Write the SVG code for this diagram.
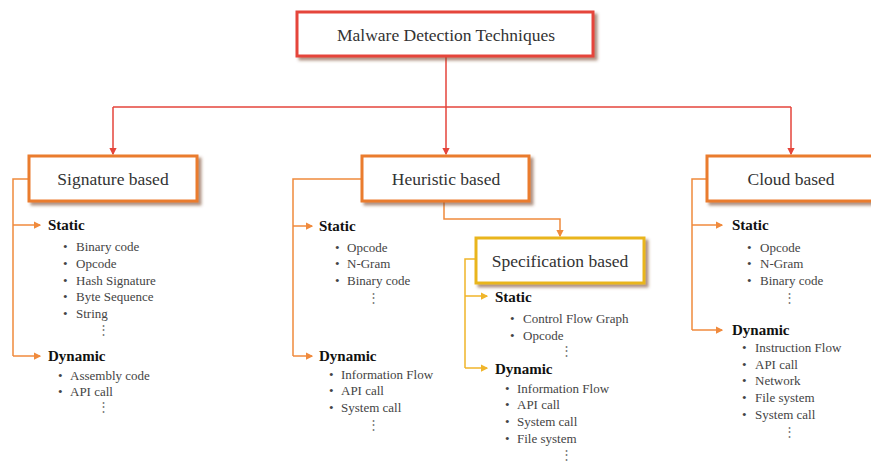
<svg xmlns="http://www.w3.org/2000/svg" width="871" height="463" viewBox="0 0 871 463" font-family="Liberation Serif, serif">
<style>
text{font-family:'Liberation Serif',serif}
.box{fill:#fff;stroke-width:3}
.red{stroke:#e5453b}
.org{stroke:#ea7b2e}
.yel{stroke:#e9b51f}
.lbl{font-size:17.5px;fill:#333;text-anchor:middle}
.hd{font-size:15px;font-weight:bold;fill:#111}
.it{font-size:13px;fill:#444}
.dots{font-size:13px;fill:#777;text-anchor:middle}
.cr{fill:none;stroke:#e5453b;stroke-width:1.5}
.co{fill:none;stroke:#f08a3c;stroke-width:1.5}
.cy{fill:none;stroke:#f0b52a;stroke-width:1.5}
</style>
<defs>
<filter id="sh" x="-10%" y="-20%" width="130%" height="150%">
<feDropShadow dx="3" dy="3" stdDeviation="1.5" flood-color="#7a4a2a" flood-opacity="0.6"/>
</filter>
<marker id="ar" viewBox="0 0 6 6" refX="5" refY="3" markerWidth="5" markerHeight="5" orient="auto"><path d="M0,0 L6,3 L0,6 z" fill="#e5453b"/></marker>
<marker id="ao" viewBox="0 0 6 6" refX="5" refY="3" markerWidth="5" markerHeight="5" orient="auto"><path d="M0,0 L6,3 L0,6 z" fill="#f08a3c"/></marker>
<marker id="ay" viewBox="0 0 6 6" refX="5" refY="3" markerWidth="5" markerHeight="5" orient="auto"><path d="M0,0 L6,3 L0,6 z" fill="#f0b52a"/></marker>
</defs>
<rect width="871" height="463" fill="#fff"/>
<g id="connectors">
<path class="cr" d="M446,57 V107"/>
<path class="cr" d="M113,107 H791"/>
<path class="cr" d="M113,107 V154" marker-end="url(#ar)"/>
<path class="cr" d="M446,107 V154" marker-end="url(#ar)"/>
<path class="cr" d="M791,107 V154" marker-end="url(#ar)"/>
<path class="co" d="M444,202 V219 H560 V236" marker-end="url(#ao)"/>
<path class="co" d="M29,179 H13 V356"/>
<path class="co" d="M13,225 H40" marker-end="url(#ao)"/>
<path class="co" d="M13,356 H40" marker-end="url(#ao)"/>
<path class="co" d="M362,179 H293 V356"/>
<path class="co" d="M293,226 H312" marker-end="url(#ao)"/>
<path class="co" d="M293,356 H312" marker-end="url(#ao)"/>
<path class="cy" d="M476,259 H465 V368"/>
<path class="cy" d="M465,296 H487" marker-end="url(#ay)"/>
<path class="cy" d="M465,368 H487" marker-end="url(#ay)"/>
<path class="co" d="M707,179 H692 V330"/>
<path class="co" d="M692,225 H722" marker-end="url(#ao)"/>
<path class="co" d="M692,330 H722" marker-end="url(#ao)"/>
</g>
<g id="root">
<rect class="box red" x="297" y="12" width="296" height="44" filter="url(#sh)"/>
<text class="lbl" x="446" y="41">Malware Detection Techniques</text>
</g>
<g id="signature">
<rect class="box org" x="29" y="156" width="168" height="45" filter="url(#sh)"/>
<text class="lbl" x="113" y="185">Signature based</text>
<text class="hd" x="48" y="230">Static</text>
<text class="it" x="63" y="251">•<tspan x="76">Binary code</tspan></text>
<text class="it" x="63" y="268">•<tspan x="76">Opcode</tspan></text>
<text class="it" x="63" y="285">•<tspan x="76">Hash Signature</tspan></text>
<text class="it" x="63" y="301">•<tspan x="76">Byte Sequence</tspan></text>
<text class="it" x="63" y="318">•<tspan x="76">String</tspan></text>
<text class="dots" x="103" y="334">⋮</text>
<text class="hd" x="48" y="361">Dynamic</text>
<text class="it" x="58" y="380">•<tspan x="70">Assembly code</tspan></text>
<text class="it" x="58" y="396">•<tspan x="70">API call</tspan></text>
<text class="dots" x="103" y="411">⋮</text>
</g>
<g id="heuristic">
<rect class="box org" x="362" y="156" width="167" height="45" filter="url(#sh)"/>
<text class="lbl" x="446" y="185">Heuristic based</text>
<text class="hd" x="319" y="231">Static</text>
<text class="it" x="335" y="252">•<tspan x="347">Opcode</tspan></text>
<text class="it" x="335" y="268">•<tspan x="347">N-Gram</tspan></text>
<text class="it" x="335" y="285">•<tspan x="347">Binary code</tspan></text>
<text class="dots" x="373" y="302">⋮</text>
<text class="hd" x="319" y="361">Dynamic</text>
<text class="it" x="329" y="379">•<tspan x="341">Information Flow</tspan></text>
<text class="it" x="329" y="395">•<tspan x="341">API call</tspan></text>
<text class="it" x="329" y="412">•<tspan x="341">System call</tspan></text>
<text class="dots" x="373" y="429">⋮</text>
</g>
<g id="specification">
<rect class="box yel" x="476" y="238" width="168" height="45" filter="url(#sh)"/>
<text class="lbl" x="560" y="267">Specification based</text>
<text class="hd" x="495" y="302">Static</text>
<text class="it" x="510" y="323">•<tspan x="523">Control Flow Graph</tspan></text>
<text class="it" x="510" y="340">•<tspan x="523">Opcode</tspan></text>
<text class="dots" x="566" y="355">⋮</text>
<text class="hd" x="495" y="374">Dynamic</text>
<text class="it" x="505" y="393">•<tspan x="517">Information Flow</tspan></text>
<text class="it" x="505" y="409">•<tspan x="517">API call</tspan></text>
<text class="it" x="505" y="426">•<tspan x="517">System call</tspan></text>
<text class="it" x="505" y="443">•<tspan x="517">File system</tspan></text>
<text class="dots" x="566" y="459">⋮</text>
</g>
<g id="cloud">
<rect class="box org" x="707" y="156" width="168" height="45" filter="url(#sh)"/>
<text class="lbl" x="791" y="185">Cloud based</text>
<text class="hd" x="732" y="230">Static</text>
<text class="it" x="747" y="252">•<tspan x="760">Opcode</tspan></text>
<text class="it" x="747" y="268">•<tspan x="760">N-Gram</tspan></text>
<text class="it" x="747" y="285">•<tspan x="760">Binary code</tspan></text>
<text class="dots" x="789" y="302">⋮</text>
<text class="hd" x="732" y="335">Dynamic</text>
<text class="it" x="742" y="352">•<tspan x="755">Instruction Flow</tspan></text>
<text class="it" x="742" y="369">•<tspan x="755">API call</tspan></text>
<text class="it" x="742" y="385">•<tspan x="755">Network</tspan></text>
<text class="it" x="742" y="402">•<tspan x="755">File system</tspan></text>
<text class="it" x="742" y="419">•<tspan x="755">System call</tspan></text>
<text class="dots" x="789" y="436">⋮</text>
</g>
</svg>
